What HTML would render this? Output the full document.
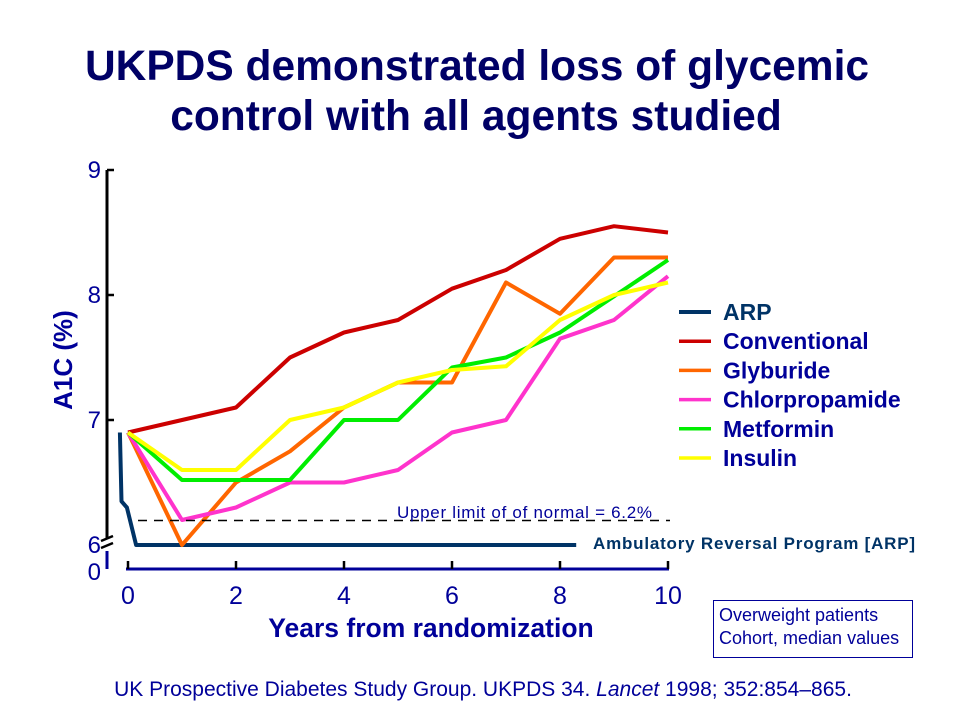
<!DOCTYPE html>
<html><head><meta charset="utf-8"><style>
body{margin:0;background:#fff;}
svg{display:block;font-family:"Liberation Sans",Arial,sans-serif;}
</style></head><body>
<svg width="960" height="720" viewBox="0 0 960 720">
<g fill="#000066" font-weight="bold" font-size="42.5" text-anchor="middle">
<text x="477" y="80">UKPDS demonstrated loss of glycemic</text>
<text x="476" y="130">control with all agents studied</text>
</g>
<g id="axes"></g>
<g id="plot"></g>
<text x="72" y="360" transform="rotate(-90 72 360)" text-anchor="middle" font-size="26" font-weight="bold" fill="#000099">A1C (%)</text>
<text x="431" y="637" text-anchor="middle" font-size="26.5" font-weight="bold" fill="#000099">Years from randomization</text>
<line x1="138" y1="520.5" x2="670" y2="520.5" stroke="#000" stroke-width="1.5" stroke-dasharray="9,7"/>
<text x="397" y="518" font-size="17" fill="#000099" textLength="255">Upper limit of of normal = 6.2%</text>
<text x="593" y="549" font-size="17" font-weight="bold" fill="#003366" textLength="322">Ambulatory Reversal Program [ARP]</text>
<g id="legend"></g>
<rect x="713.5" y="600.5" width="199" height="57" fill="#fff" stroke="#000099" stroke-width="1"/>
<text x="719" y="621" font-size="18" fill="#000099">Overweight patients</text>
<text x="719" y="644" font-size="18" fill="#000099">Cohort, median values</text>
<text x="483" y="696" text-anchor="middle" font-size="21" fill="#000099">UK Prospective Diabetes Study Group. UKPDS 34. <tspan font-style="italic">Lancet</tspan> 1998; 352:854–865.</text>
</svg>
<script>
const years = [0,1,2,3,4,5,6,7,8,9,10];
const conventional = [6.9,7.0,7.1,7.5,7.7,7.8,8.05,8.2,8.45,8.55,8.5];
const glyburide = [6.9,6.0,6.5,6.75,7.1,7.3,7.3,8.1,7.85,8.3,8.3];
const chlorpropamide = [6.9,6.2,6.3,6.5,6.5,6.6,6.9,7.0,7.65,7.8,8.15];
const metformin = [6.9,6.52,6.52,6.52,7.0,7.0,7.42,7.5,7.7,7.99,8.28];
const insulin = [6.9,6.6,6.6,7.0,7.1,7.3,7.4,7.43,7.8,8.0,8.1];
const arpYears = [-0.15,-0.12,-0.02,0.15,8.3];
const arpValues = [6.9,6.35,6.3,6.0,6.0];
const yTicks = [6,7,8,9];
const xTicks = [0,2,4,6,8,10];
const seriesNames = ["ARP","Conventional","Glyburide","Chlorpropamide","Metformin","Insulin"];
const seriesColors = ["#003366","#cc0000","#ff6600","#ff33cc","#00ee00","#ffff00"];

const NS="http://www.w3.org/2000/svg";
const xs = v => 128 + v*54;
const ys = v => 545 - (v-6)*125;
function mk(tag, attrs, parent){const e=document.createElementNS(NS,tag);for(const k in attrs)e.setAttribute(k,attrs[k]);parent.appendChild(e);return e;}
const axes=document.getElementById('axes'), plot=document.getElementById('plot'), legend=document.getElementById('legend');

let yl=mk('line',{x1:107,y1:170,x2:107,y2:539,stroke:'#000','stroke-width':3},axes);


let yb=mk('line',{x1:107,y1:551,x2:107,y2:569,stroke:'#000099','stroke-width':3},axes);


let br=mk('path',{d:'M101 541 L113 536 M101 548 L113 543',stroke:'#000','stroke-width':2.5,fill:'none'},axes);


yTicks.forEach(t=>{
  if(t>6){let l=mk('line',{x1:107,y1:ys(t),x2:114,y2:ys(t),stroke:'#000','stroke-width':2.5},axes);
  
  }
  let tx=mk('text',{x:101,y:ys(t)+8,'text-anchor':'end','font-size':24,fill:'#000099'},axes);
  tx.textContent=t;
  
  
});
let z=mk('text',{x:101,y:580,'text-anchor':'end','font-size':24,fill:'#000099'},axes);
z.textContent='0';


let xl=mk('line',{x1:126,y1:569,x2:669,y2:569,stroke:'#000099','stroke-width':3},axes);


xTicks.forEach(t=>{
  let l=mk('line',{x1:xs(t),y1:561,x2:xs(t),y2:569,stroke:'#000','stroke-width':2.5},axes);
  
  
  let tx=mk('text',{x:xs(t),y:604,'text-anchor':'middle','font-size':25,fill:'#000099'},axes);
  tx.textContent=t;
  
  
});
function line(xv,yv,color,name){
  const pts=xv.map((x,i)=>xs(x).toFixed(1)+','+ys(yv[i]).toFixed(1)).join(' ');
  const p=mk('polyline',{points:pts,fill:'none',stroke:color,'stroke-width':4,'stroke-linejoin':'round'},plot);
  
  
}
line(arpYears,arpValues,seriesColors[0],'series-arp');
line(years,conventional,seriesColors[1],'series-conventional');
line(years,glyburide,seriesColors[2],'series-glyburide');
line(years,chlorpropamide,seriesColors[3],'series-chlorpropamide');
line(years,metformin,seriesColors[4],'series-metformin');
line(years,insulin,seriesColors[5],'series-insulin');
seriesNames.forEach((n,i)=>{
  const y=312+i*29.2;
  const l=mk('line',{x1:679,y1:y,x2:711,y2:y,stroke:seriesColors[i],'stroke-width':i==0?4:3.5},legend);
  
  
  const t=mk('text',{x:723,y:y+8,'font-size':23,'font-weight':'bold',fill:i==0?'#003366':'#000099'},legend);
  t.textContent=n;
  
  
});
</script>
</body></html>
